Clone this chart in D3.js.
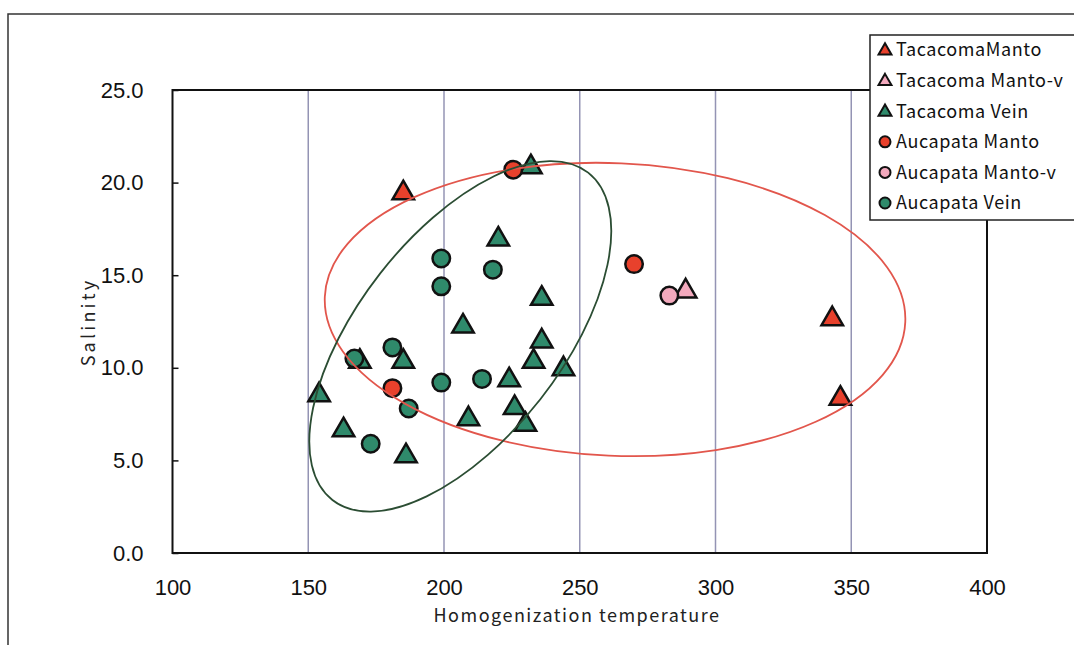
<!DOCTYPE html>
<html>
<head>
<meta charset="utf-8">
<script src="https://cdn.jsdelivr.net/npm/d3@7"></script>
<style>
  body { margin: 0; background: #fff; }
  svg { display: block; }
</style>
</head>
<body>
<svg></svg>
<script>

// data: [temperature, salinity]
var tacacomaManto = [[185, 19.5], [343, 12.7], [346, 8.4]]
var tacacomaMantoV = [[289, 14.2]]
var tacacomaVein = [[232, 20.9], [220, 17.0], [236, 13.8], [207, 12.3], [236, 11.5], [169, 10.4],
    [185, 10.4], [233, 10.4], [244, 10.0], [224, 9.4], [154, 8.6], [226, 7.9], [209, 7.3],
    [230, 7.0], [163, 6.7], [186, 5.3]]
var aucapataManto = [[225.5, 20.7], [181, 8.9], [270, 15.6]]
var aucapataMantoV = [[283, 13.9]]
var aucapataVein = [[199, 15.9], [218, 15.3], [199, 14.4], [181, 11.1], [167, 10.5], [199, 9.2],
    [214, 9.4], [187, 7.8], [173, 5.9]]

var seriesNames = ["TacacomaManto", "Tacacoma Manto-v", "Tacacoma Vein", "Aucapata Manto", "Aucapata Manto-v", "Aucapata Vein"]
var xTicks = [100, 150, 200, 250, 300, 350, 400]
var yTicks = [0, 5, 10, 15, 20, 25]

// hand drawn ellipses: centre [temp, salinity], half axes [temp units, salinity units], tilt in degrees
var redEllipse = {c: [263, 13.15], r: [107, 7.9], tilt: 2.5}
var greenEllipse = {c: [206, 11.7], r: [76.5, 5.5], tilt: -52}

var series = [
    {name: seriesNames[0], data: tacacomaManto, shape: "tri", fill: "#e8412c"},
    {name: seriesNames[1], data: tacacomaMantoV, shape: "tri", fill: "#f3a9bd"},
    {name: seriesNames[2], data: tacacomaVein, shape: "tri", fill: "#2f8a6b"},
    {name: seriesNames[3], data: aucapataManto, shape: "circ", fill: "#e8412c"},
    {name: seriesNames[4], data: aucapataMantoV, shape: "circ", fill: "#f3a9bd"},
    {name: seriesNames[5], data: aucapataVein, shape: "circ", fill: "#2f8a6b"}
]

var svg = d3.select("svg")
    .attr("width", 1074)
    .attr("height", 645)

// cornice esterna
svg.append("rect")
    .attr("x", 8).attr("y", 14)
    .attr("width", 1100).attr("height", 700)
    .attr("fill", "white")
    .attr("stroke", "#333").attr("stroke-width", 1.5)

var x = d3.scaleLinear().domain([100, 400]).range([172.5, 987])
var y = d3.scaleLinear().domain([0, 25]).range([553, 90])

// grid verticale
svg.append("g").selectAll("line")
    .data(xTicks.slice(1, -1))
    .enter().append("line")
    .attr("x1", d => x(d)).attr("x2", d => x(d))
    .attr("y1", y(25)).attr("y2", y(0))
    .attr("stroke", "#9494b4").attr("stroke-width", 1.5)

// assi
var yAxis = d3.axisLeft(y).tickValues(yTicks).tickFormat(d3.format(".1f"))
    .tickSize(-6).tickPadding(29)
var gy = svg.append("g").attr("transform", "translate(" + x(100) + ",0)").call(yAxis)
gy.select(".domain").remove()
gy.selectAll("line").attr("stroke", "#111").attr("stroke-width", 1.5)
gy.selectAll("text").attr("font-family", "Liberation Sans, Arial, sans-serif")
    .attr("font-size", 22).attr("fill", "#111")

var xAxis = d3.axisBottom(x).tickValues(xTicks).tickSize(0).tickPadding(26)
var gx = svg.append("g").attr("transform", "translate(0," + y(0) + ")").call(xAxis)
gx.select(".domain").remove()
gx.selectAll("text").attr("font-family", "Liberation Sans, Arial, sans-serif")
    .attr("font-size", 22).attr("fill", "#111")

// bordo area grafico
svg.append("rect")
    .attr("x", x(100)).attr("y", y(25))
    .attr("width", x(400) - x(100)).attr("height", y(0) - y(25))
    .attr("fill", "none").attr("stroke", "#111").attr("stroke-width", 2)

// titoli assi
svg.append("text")
    .attr("x", 577).attr("y", 622)
    .attr("text-anchor", "middle")
    .attr("font-family", "Noto Sans CJK JP, sans-serif").attr("font-size", 18)
    .attr("letter-spacing", 1.5)
    .attr("fill", "#222")
    .text("Homogenization temperature")

svg.append("text")
    .attr("transform", "translate(95,322) rotate(-90)")
    .attr("text-anchor", "middle")
    .attr("font-family", "Noto Sans CJK JP, sans-serif").attr("font-size", 18)
    .attr("letter-spacing", 3.2)
    .attr("fill", "#222")
    .text("Salinity")

var triangle = d3.symbol().type(d3.symbolTriangle)
function drawMarker(g, shape, fill, size) {
    if (shape == "tri") {
        g.append("path")
            .attr("d", triangle.size(size * size * 0.5)())
            .attr("transform", "translate(0," + (size * 0.06) + ")")
            .attr("fill", fill).attr("stroke", "#111").attr("stroke-width", 2.5)
            .attr("stroke-linejoin", "miter")
    } else {
        g.append("circle")
            .attr("r", size / 2)
            .attr("fill", fill).attr("stroke", "#111").attr("stroke-width", 2.5)
    }
}

// punti
series.forEach(function (s) {
    s.data.forEach(function (d) {
        var g = svg.append("g").attr("transform", "translate(" + x(d[0]) + "," + y(d[1]) + ")")
        drawMarker(g, s.shape, s.fill, s.shape == "tri" ? 20 : 17.5)
    })
})

// ellissi
function drawEllipse(e, colour) {
    var cx = x(e.c[0]), cy = y(e.c[1])
    svg.append("ellipse")
        .attr("cx", 0).attr("cy", 0)
        .attr("rx", x(e.c[0] + e.r[0]) - cx)
        .attr("ry", cy - y(e.c[1] + e.r[1]))
        .attr("transform", "translate(" + cx + "," + cy + ") rotate(" + e.tilt + ")")
        .attr("fill", "none").attr("stroke", colour).attr("stroke-width", 1.8)
}
drawEllipse(redEllipse, "#e2564c")
drawEllipse(greenEllipse, "#2b4d33")

// legenda
var legend = svg.append("g")
legend.append("rect")
    .attr("x", 870).attr("y", 35)
    .attr("width", 260).attr("height", 185)
    .attr("fill", "white").attr("stroke", "#222").attr("stroke-width", 1.5)

series.forEach(function (s, i) {
    var yy = 50 + i * 30.6
    var g = legend.append("g").attr("transform", "translate(885," + yy + ")")
    drawMarker(g, s.shape, s.fill, s.shape == "tri" ? 12 : 11)
    g.selectAll("path, circle").attr("stroke-width", 2)
    legend.append("text")
        .attr("x", 896).attr("y", yy)
        .attr("dy", "0.36em")
        .attr("font-family", "Noto Sans CJK JP, sans-serif").attr("font-size", 18)
        .attr("letter-spacing", 0.6)
        .attr("fill", "#111")
        .text(s.name)
})

</script>
</body>
</html>
